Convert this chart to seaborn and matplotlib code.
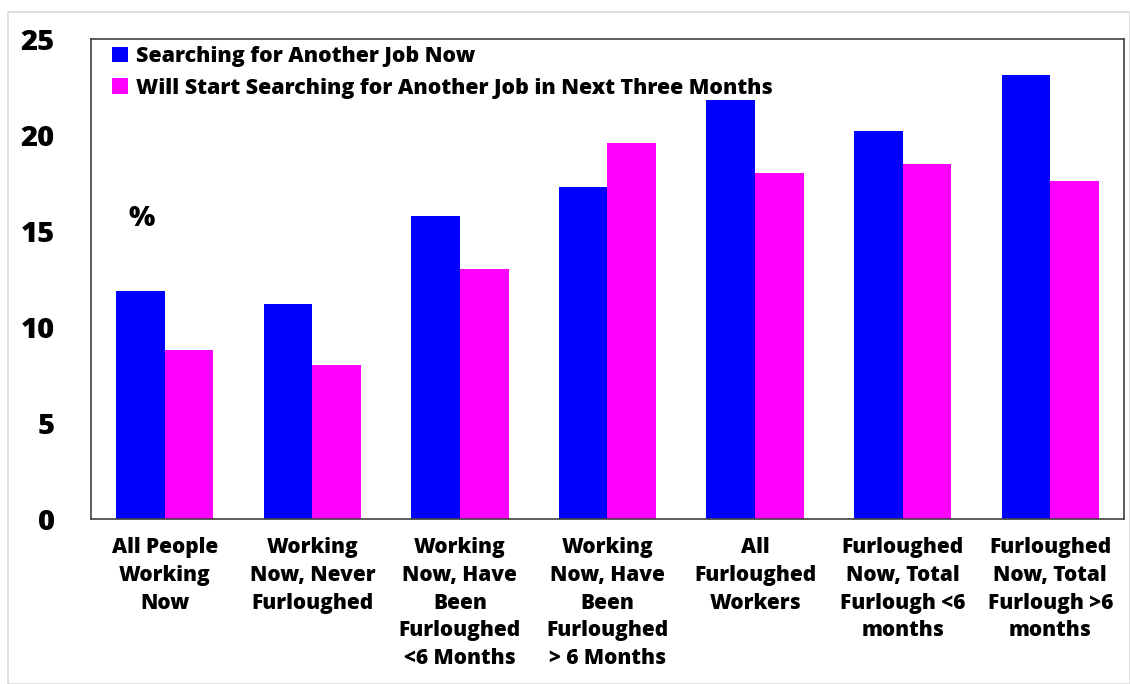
import matplotlib
matplotlib.use("Agg")
import matplotlib.pyplot as plt
import seaborn as sns
import pandas as pd
from matplotlib.patches import Rectangle

categories = [
    "All People\nWorking\nNow",
    "Working\nNow, Never\nFurloughed",
    "Working\nNow, Have\nBeen\nFurloughed\n<6 Months",
    "Working\nNow, Have\nBeen\nFurloughed\n> 6 Months",
    "All\nFurloughed\nWorkers",
    "Furloughed\nNow, Total\nFurlough <6\nmonths",
    "Furloughed\nNow, Total\nFurlough >6\nmonths",
]
series_names = ["Searching for Another Job Now",
                "Will Start Searching for Another Job in Next Three Months"]
searching_now = [11.9, 11.2, 15.8, 17.3, 21.8, 20.2, 23.1]
next_three_months = [8.8, 8.0, 13.0, 19.6, 18.0, 18.5, 17.6]
yticks = [0, 5, 10, 15, 20, 25]

df = pd.DataFrame({
    "cat": categories * 2,
    "series": [series_names[0]] * len(categories) + [series_names[1]] * len(categories),
    "value": searching_now + next_three_months,
})

sns.set_theme(style="white")
plt.rcParams["font.family"] = ["Open Sans", "DejaVu Sans"]

fig = plt.figure(figsize=(11.3, 6.84), dpi=100)
ax = fig.add_axes([0.0805, 0.2412, 0.9142, 0.7018])

sns.barplot(data=df, x="cat", y="value", hue="series", order=categories,
            hue_order=series_names, palette=["#0000FF", "#FF00FF"],
            width=0.66, saturation=1, ax=ax, errorbar=None, linewidth=0)

ax.set_ylim(0, 25)
ax.set_xlim(-0.5, len(categories) - 0.5)
ax.set_yticks(yticks)
ax.set_yticklabels([str(t) for t in yticks], fontsize=21, fontweight="heavy", color="black")
ax.set_xticklabels(categories, fontsize=15, fontweight="heavy", color="black", linespacing=1.42)
ax.tick_params(axis="y", length=0, pad=26)
ax.tick_params(axis="x", length=0, pad=13)
ax.set_xlabel("")
ax.set_ylabel("")
for s in ax.spines.values():
    s.set_visible(True)
    s.set_color("#404040")
    s.set_linewidth(1.2)

leg = ax.legend(loc="upper left", frameon=False, prop={"weight": "heavy", "size": 15.4},
                handlelength=0.75, handleheight=0.75, handletextpad=0.35,
                labelspacing=0.5, bbox_to_anchor=(0.0, 1.03), borderaxespad=0.6)
for t in leg.get_texts():
    t.set_color("black")

ax.text(0.049, 0.625, "%", transform=ax.transAxes, fontsize=20, fontweight="heavy",
        ha="center", va="center", color="black")

fig.patches.append(Rectangle((0.007, 0.0), 0.993, 0.983, transform=fig.transFigure,
                             fill=False, edgecolor="#d9d9d9", linewidth=1.2))

fig.savefig("out.png", dpi=100)
